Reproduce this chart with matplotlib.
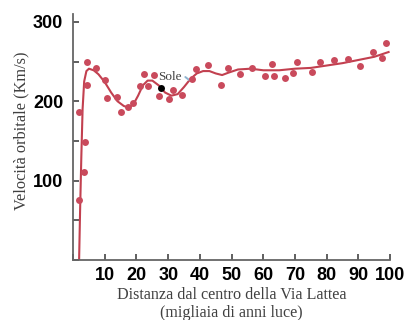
import matplotlib
matplotlib.use("Agg")
import matplotlib.pyplot as plt
from matplotlib.ticker import MultipleLocator, FuncFormatter

# Measured rotation speeds (distance in thousands of light years, speed in km/s)
distanza = [2.0, 3.5, 3.8, 2.0, 4.3, 4.3, 7.3, 10.2, 10.6, 14.0, 15.0, 17.4,
            18.8, 21.0, 22.5, 23.7, 25.6, 27.2, 30.4, 31.6, 34.3, 37.4, 38.8,
            42.4, 46.6, 48.7, 52.5, 56.4, 60.6, 62.7, 63.4, 66.8, 69.5, 70.6,
            75.3, 77.9, 82.3, 86.8, 90.5, 94.5, 97.4, 98.6]
velocita = [76, 111, 149, 187, 221, 250, 242, 227, 204, 205, 187, 193,
            198, 219, 234, 219, 233, 206, 203, 214, 208, 228, 240,
            246, 221, 242, 234, 242, 232, 247, 232, 229, 236, 250,
            237, 250, 252, 253, 245, 262, 255, 273]

# Fitted rotation curve
curva_d = [1.9, 2.2, 2.6, 3.0, 3.5, 4.2, 5.0, 6.5, 8.0, 10.0, 12.0, 14.0,
           16.0, 17.5, 19.0, 20.5, 22.0, 23.5, 25.0, 27.0, 29.0, 31.0, 33.0,
           35.0, 37.0, 39.0, 41.0, 43.0, 45.0, 47.0, 49.0, 52.0, 56.0, 60.0,
           65.0, 70.0, 75.0, 80.0, 85.0, 90.0, 95.0, 99.5]
curva_v = [0, 60, 130, 190, 225, 238, 241, 239, 234, 224, 211, 200,
           194, 192, 196, 207, 220, 226, 226, 220, 211, 207, 209,
           218, 228, 235, 238, 238, 235, 233, 236, 240, 241, 239,
           239, 241, 242, 245, 248, 252, 256, 262]

# Position of the Sun
sole_d = 27.6
sole_v = 217

rosso = "#c94a5c"
grigio = "#666666"
testo = "#404040"

fig = plt.figure(figsize=(4.06, 3.2), dpi=100)
ax = fig.add_axes([0.180, 0.1875, 0.781, 0.769])

ax.plot(curva_d, curva_v, color="#c2404f", lw=1.5, solid_joinstyle="round", zorder=2)
ax.plot(distanza, velocita, "o", color=rosso, ms=5.0, mec="none", zorder=3)
ax.plot([sole_d], [sole_v], "o", color="black", ms=5.0, mec="none", zorder=4)
ax.text(30.6, 230, "Sole", family="Liberation Serif", fontsize=9.5,
        color=testo, ha="center", va="center")
ax.plot([35.4, 36.7], [230.5, 226.5], color="#8fb3cf", lw=1.4, solid_capstyle="round")

ax.set_xlim(0, 100)
ax.set_ylim(0, 310)

ax.xaxis.set_major_locator(MultipleLocator(10))
ax.yaxis.set_major_locator(MultipleLocator(50))
ax.xaxis.set_major_formatter(FuncFormatter(lambda v, p: "" if v == 0 else f"{v:.0f}"))
ax.yaxis.set_major_formatter(FuncFormatter(lambda v, p: f"{v:.0f}" if v % 100 == 0 and v > 0 else ""))

for s in ("top", "right"):
    ax.spines[s].set_visible(False)
for s in ("left", "bottom"):
    ax.spines[s].set_color(grigio)
    ax.spines[s].set_linewidth(1.3)

ax.tick_params(axis="both", direction="in", color="#444444", width=1.2,
               labelsize=13, labelcolor="black")
ax.tick_params(axis="y", length=4.5, pad=7)
ax.tick_params(axis="x", length=4.0, pad=5)
for lab in ax.get_xticklabels() + ax.get_yticklabels():
    lab.set_fontfamily("Liberation Sans")
    lab.set_fontweight("bold")

ax.set_xlabel("Distanza dal centro della Via Lattea\n(migliaia di anni luce)",
              family="Liberation Serif", fontsize=11.6, color=testo,
              linespacing=1.15, labelpad=2)
ax.set_ylabel("Velocità orbitale (Km/s)", family="Liberation Serif",
              fontsize=11.8, color=testo)
ax.yaxis.set_label_coords(-0.137, 0.525)

fig.savefig("out.png", dpi=100)
